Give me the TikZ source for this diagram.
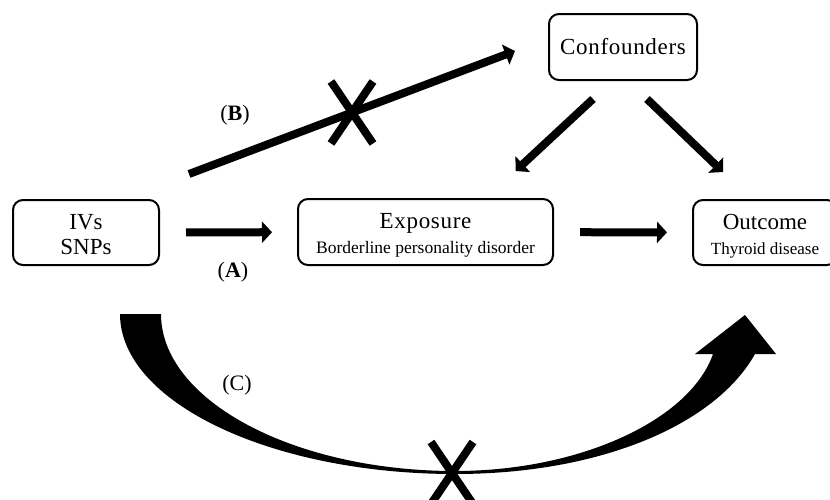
\documentclass[tikz,border=0pt]{standalone}
\usepackage{fontspec}
\setmainfont{Liberation Serif}
\usetikzlibrary{arrows.meta,shapes.misc}

\begin{document}
\begin{tikzpicture}[x=1pt,y=-1pt,>={Triangle[length=10pt,width=21pt]},
                    main node/.style={draw,rounded corners=10pt,line width=2pt,align=center,
                      inner sep=0pt,minimum height=65pt,font=\fontsize{23}{25}\selectfont},
                    thick arrow/.style={->,line width=8pt},
                    cross mark/.style={cross out,draw,line width=8pt,inner sep=0pt,
                      minimum width=34pt,minimum height=54pt},
                    path label/.style={font=\fontsize{22}{24}\selectfont}]

  \useasboundingbox (0,0) rectangle (830,499);
  \clip (0,0) rectangle (830,499);

  \node[main node,minimum width=146pt] (ivs) at (86,232.5) {\rule{0pt}{19pt}IVs\\SNPs};
  \node[main node,minimum width=255pt,minimum height=66pt] (exposure) at (425.5,232)
    {\rule{0pt}{22pt}\addfontfeature{LetterSpace=3}Exposure\\\fontsize{17.5}{28}\selectfont Borderline personality disorder};
  \node[main node,minimum width=144pt] (outcome) at (765,232.5)
    {\rule{0pt}{22pt}Outcome\\\fontsize{17}{23}\selectfont Thyroid disease};
  \node[main node,minimum width=148pt,minimum height=66pt] (conf) at (623,47)
    {\addfontfeature{LetterSpace=3}Confounders};

  \path[thick arrow,shorten <=26pt,shorten >=25pt]
    (ivs) edge (exposure)
    (exposure) edge (outcome);

  \draw[thick arrow] ([xshift=-30pt,yshift=-18pt]conf.south) -- ([xshift=90pt,yshift=27pt]exposure.north);
  \draw[thick arrow] ([xshift=24pt,yshift=-18pt]conf.south) -- ([xshift=-42pt,yshift=27pt]outcome.north);

  % (B): blocked path to the confounders
  \draw[thick arrow] ([xshift=29pt,yshift=25pt]ivs.north east) -- ([xshift=-33pt,yshift=-4pt]conf.west)
    node[cross mark,pos=0.5] (crossB) {};

  % (C): tapered arrow below
  \fill (120,314) .. controls (120,402) and (271,474) .. (455,474)
    .. controls (600,474) and (715,425) .. (755,354) -- (776,354) -- (745,315) -- (695,354) -- (713,354)
    .. controls (690,420) and (580,471) .. (455,471)
    .. controls (293,471) and (161,400) .. (161,314) -- cycle;
  \node[cross mark] (crossC) at (452,473) {};

  \node[path label] (labelA) at (233,272) {(\textbf{A})};
  \node[path label] (labelB) at (235,115) {(\textbf{B})};
  \node[path label] (labelC) at (237,385) {(C)};
\end{tikzpicture}
\end{document}
